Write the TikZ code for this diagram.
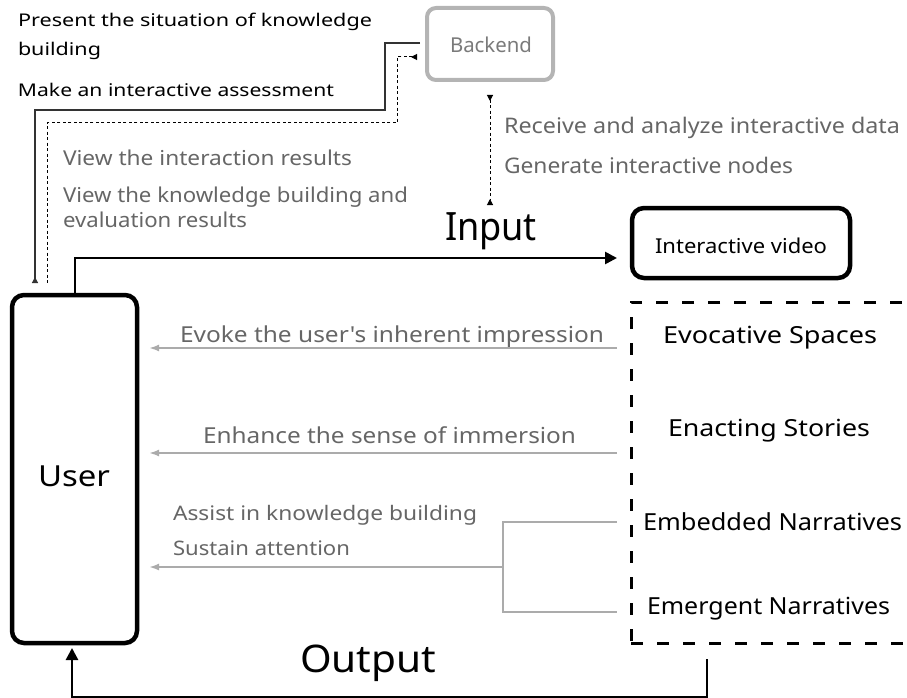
\documentclass[tikz,border=0pt]{standalone}
\usepackage{fontspec}
\setmainfont{Noto Sans}
\newfontfamily\plainquotes{Noto Sans}[Ligatures=TeXOff]
\usepackage{graphicx}
\usetikzlibrary{arrows.meta,calc}

% set a text to a given width, keeping its natural height
\newcommand{\fitw}[2]{\resizebox{#1pt}{\height}{#2}}
\newcommand{\fsz}[1]{\fontsize{#1}{#1}\selectfont}

\definecolor{txtgray}{HTML}{666666}
\definecolor{lblgray}{HTML}{7A7A7A}
\definecolor{arrgray}{HTML}{ABABAB}
\definecolor{boxgray}{HTML}{B4B4B4}

\tikzset{tipin/.tip={Triangle[reversed,length=6pt,width=6pt]}}

\begin{document}
\begin{tikzpicture}[x=1pt,y=-1pt,
  txt/.style={anchor=base west,inner sep=0pt,outer sep=0pt},
  blackbox/.style={draw=black,line width=4.5pt,rounded corners=12pt,outer sep=0pt,inner sep=0pt},
  graybox/.style={draw=boxgray,line width=4pt,rounded corners=9pt,outer sep=0pt,inner sep=0pt},
  dashbox/.style={draw=black,line width=3pt,dash pattern=on 12pt off 14pt,outer sep=0pt,inner sep=0pt},
  bigarrow/.style={draw=black,line width=2.6pt,-{Triangle[length=12pt,width=12pt]}},
  linkline/.style={draw=black!80,line width=1.2pt},
  linkdash/.style={draw=black,line width=1pt,dash pattern=on 3pt off 2.5pt},
  grayarrow/.style={draw=arrgray,line width=2pt,-{Latex[length=10pt,width=7pt]}},
  grayline/.style={draw=arrgray,line width=1.3pt}]

\useasboundingbox (0,0) rectangle (907,698);

% ---- boxes ----
\node[blackbox,minimum width=125,minimum height=348] (user) at (74.5,469) {};
\node[blackbox,minimum width=218,minimum height=70] (video) at (741,243) {};
\node[graybox,minimum width=126,minimum height=72] (backend) at (490,44) {};
\node[dashbox,minimum width=290,minimum height=341] (narr) at (776,472.5) {};

% ---- box labels ----
\node[txt,font=\fsz{29}] (userlbl) at (38,486) {\fitw{72}{User}};
\node[txt,font=\fsz{20.5}] (videolbl) at (655,253) {\fitw{172}{Interactive video}};
\node[txt,font=\fsz{20.5},text=lblgray] (backendlbl) at (450,53) {\fitw{82}{Backend}};

% ---- flow labels ----
\node[txt,font=\fsz{39}] (inputlbl) at (445,240) {\fitw{92}{Input}};
\node[txt,font=\fsz{38}] (outputlbl) at (300,672) {\fitw{136}{Output}};

% ---- top left notes ----
\node[txt,font=\fsz{17.5}] (n1) at (18,27) {\fitw{354}{Present the situation of knowledge}};
\node[txt,font=\fsz{17.5}] (n2) at (18,56) {\fitw{83}{building}};
\node[txt,font=\fsz{17.5}] (n3) at (18,97) {\fitw{316}{Make an interactive assessment}};
\node[txt,font=\fsz{20.5},text=txtgray] (v1) at (63,165) {\fitw{289}{View the interaction results}};
\node[txt,font=\fsz{20.5},text=txtgray] (v2) at (63,202) {\fitw{345}{View the knowledge building and}};
\node[txt,font=\fsz{20.5},text=txtgray] (v3) at (63,227) {\fitw{184}{evaluation results}};
\node[txt,font=\fsz{21.5},text=txtgray] (r1) at (504,134) {\fitw{396}{Receive and analyze interactive data}};
\node[txt,font=\fsz{21.5},text=txtgray] (r2) at (504,173) {\fitw{289}{Generate interactive nodes}};

% ---- effects ----
\node[txt,font=\fsz{22}\plainquotes,text=txtgray] (e1) at (180,342) {\fitw{424}{Evoke the user's inherent impression}};
\node[txt,font=\fsz{22},text=txtgray] (e2) at (203,443) {\fitw{373}{Enhance the sense of immersion}};
\node[txt,font=\fsz{20},text=txtgray] (e3) at (173,520) {\fitw{304}{Assist in knowledge building}};
\node[txt,font=\fsz{20},text=txtgray] (e4) at (173,555) {\fitw{177}{Sustain attention}};

% ---- narrative types ----
\node[txt,font=\fsz{23.5}] (s1) at (663,343) {\fitw{214}{Evocative Spaces}};
\node[txt,font=\fsz{23.5}] (s2) at (668,436) {\fitw{202}{Enacting Stories}};
\node[txt,font=\fsz{23.5}] (s3) at (643,530) {\fitw{259}{Embedded Narratives}};
\node[txt,font=\fsz{23.5}] (s4) at (647,614) {\fitw{243}{Emergent Narratives}};

% ---- input / output ----
\draw[bigarrow] ($(user.north)+(0.5,0)$) |- ($(video.west)+(-15,15)$);
\draw[bigarrow] ($(narr.south west)+(76,16)$) -- ++(0,38) -| ($(user.south)+(-2.5,5)$);

% ---- backend links ----
\draw[linkline,-{tipin}] ($(backend.west)+(-7,-1)$) -- (385,43) -- (385,110) -- (35,110)
  -- ($(user.north west)+(23,-12)$);
\draw[linkdash,{tipin}-] ($(backend.west)+(-10,13)$) -- (397,57) -- (397,123) -- (47,123)
  -- ($(user.north west)+(35,-10)$);
\draw[linkdash,{tipin}-{tipin}] ($(backend.south)+(0,15)$) -- ($(backend.south)+(0,125)$);

% ---- effect arrows ----
\draw[grayarrow] ($(narr.north west)+(-14,46)$) -- ($(user.north east)+(12,53)$);
\draw[grayarrow] ($(narr.north west)+(-14,151)$) -- ($(user.north east)+(12,158)$);
\draw[grayline] ($(narr.north west)+(-14,220)$) -- (503,522) -- (503,612)
  -- ($(narr.north west)+(-14,310)$);
\draw[grayarrow] (503,567) -- ($(user.north east)+(12,272)$);

\end{tikzpicture}
\end{document}
